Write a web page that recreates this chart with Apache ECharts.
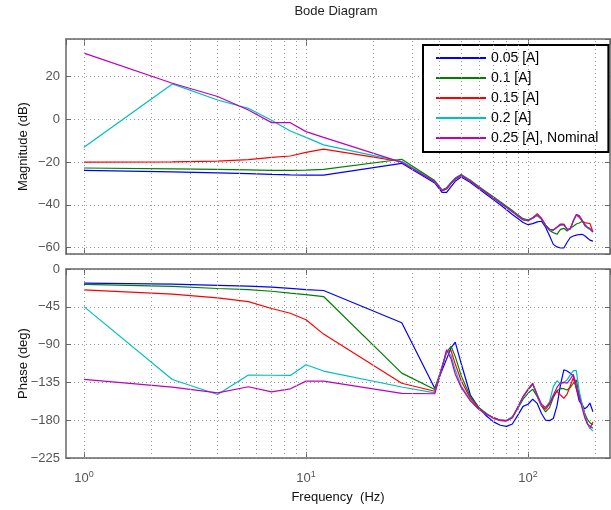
<!DOCTYPE html>
<html>
<head>
<meta charset="utf-8">
<title>Bode Diagram</title>
<script src="https://cdn.jsdelivr.net/npm/echarts@6/dist/echarts.min.js"></script>
<style>
  html, body { margin: 0; padding: 0; background: #fff; }
  #chart { width: 611px; height: 510px; }
</style>
</head>
<body>
<div id="chart"></div>
<script>
// frequency points (Hz), shared by every curve
const freq = [1, 2.5, 4, 5.5, 7, 8.5, 10, 12, 27, 38, 41, 43, 45, 47, 50,
  55, 60, 65, 70, 75, 80, 85, 90, 95, 100,
  105, 110, 115, 120, 125, 130, 135, 140, 145, 150, 155, 160, 165, 170, 175, 180, 185, 190, 196];

const names = ['0.05 [A]', '0.1 [A]', '0.15 [A]', '0.2 [A]', '0.25 [A], Nominal'];
const colors = ['#0000ff', '#008000', '#ff0000', '#00bfbf', '#bf00bf'];

// magnitude (dB)
const magA05 = [-23.9, -24.6, -25.1, -25.4, -25.8, -26.0, -26.1, -26.1, -20.6, -29.8, -34.2, -34.2, -31.5, -29.0, -27.0,
  -29.6, -32.5, -35.2, -37.7, -40.0, -42.3, -44.5, -46.4, -48.3, -49.3,
  -48.8, -48.0, -47.7, -50.5, -54.5, -58.5, -59.7, -60.2, -60.2, -57.5, -55.3, -54.6, -54.2, -53.9, -53.8, -54.5, -55.5, -56.5, -57.0];
const magA10 = [-22.8, -23.2, -23.4, -23.7, -23.9, -23.9, -23.8, -23.4, -18.7, -28.7, -33.0, -32.0, -29.5, -27.5, -25.8,
  -28.5, -31.4, -34.0, -36.4, -38.6, -40.7, -42.7, -44.7, -46.5, -47.0,
  -46.3, -45.0, -46.8, -49.8, -52.0, -53.0, -53.8, -51.5, -51.0, -52.3, -51.0, -50.0, -49.0, -48.5, -47.8, -49.0, -50.5, -51.5, -52.8];
const magA15 = [-20.1, -19.9, -19.6, -18.9, -17.8, -17.2, -15.5, -14.0, -19.8, -29.2, -33.4, -32.5, -30.0, -28.0, -26.2,
  -29.0, -31.9, -34.5, -36.9, -39.1, -41.2, -43.2, -45.2, -47.0, -47.4,
  -46.0, -44.2, -46.3, -49.5, -51.5, -51.8, -50.5, -49.0, -49.0, -51.5, -51.2, -47.5, -44.8, -45.8, -47.5, -48.3, -48.6, -48.7, -52.6];
const magA20 = [-13.1, 16.5, 9.0, 5.1, -0.5, -5.5, -8.5, -12.0, -19.8, -29.2, -33.4, -32.5, -30.0, -28.0, -26.2,
  -29.0, -31.9, -34.5, -36.9, -39.1, -41.2, -43.2, -45.2, -47.0, -47.4,
  -46.2, -44.8, -46.5, -49.5, -51.5, -51.8, -50.5, -49.5, -49.5, -51.5, -51.3, -47.5, -44.5, -45.0, -47.0, -49.8, -50.8, -51.5, -52.6];
const magA25 = [30.9, 16.8, 10.6, 4.3, -1.6, -1.6, -5.8, -8.5, -20.2, -29.2, -33.4, -32.5, -30.0, -28.0, -26.2,
  -29.0, -31.9, -34.5, -36.9, -39.1, -41.2, -43.2, -45.2, -47.0, -47.4,
  -46.2, -44.6, -46.5, -49.5, -51.5, -51.8, -50.5, -49.3, -49.2, -51.5, -51.3, -47.5, -44.6, -45.2, -47.2, -49.5, -50.5, -51.0, -52.6];

// phase (deg)
const phA05 = [-16.8, -18.0, -19.5, -20.5, -21.5, -23.0, -24.5, -25.6, -64.0, -142.0, -120.5, -107, -94, -87, -112.5,
  -150, -165, -175, -182, -186, -187.4, -184.5, -174, -163.5, -161,
  -155, -160, -172, -180, -180.5, -178, -163, -138, -120, -121.5, -124, -127.5, -142, -157, -161.5, -166.5, -164, -159.5, -170];
const phA10 = [-18.4, -20.8, -23.2, -24.6, -26.5, -28.8, -30.5, -32.8, -124.0, -143.4, -116, -99, -92, -104, -127,
  -152, -165, -172, -177.5, -180, -180.5, -176, -166, -155, -148,
  -143, -152, -163, -170, -165, -153, -145, -142, -142.5, -144, -141, -136, -132, -150, -163, -172, -179, -183, -185.5];
const phA15 = [-24.8, -30.0, -34.4, -38.8, -47.0, -52.7, -60.5, -77.5, -136.0, -145.5, -117, -98, -97, -113, -133,
  -154, -166, -173, -178, -180.5, -181, -177, -165, -152, -143,
  -136, -150, -163, -167, -161, -151, -145.5, -150, -154, -149, -139, -129.5, -142, -153, -160, -172, -184, -190, -182];
const phA20 = [-44.8, -131.5, -149.4, -126.3, -126.5, -126.7, -114.0, -121.5, -140.5, -147.4, -117, -97, -103, -120, -139,
  -156, -167, -173, -177, -180, -180.5, -176, -165, -152, -144,
  -137, -150, -162, -165, -158, -140, -133, -137, -135, -132, -126, -121, -121, -145, -160, -174, -184, -189, -193];
const phA25 = [-131.5, -140.7, -147.4, -140.2, -146.2, -142.6, -133.5, -133.5, -148.0, -148.5, -118, -96, -107, -125, -141,
  -157, -167, -173, -177, -180, -180.5, -177, -164, -152, -144,
  -137, -150, -161, -165, -160, -150, -141, -135.5, -135, -136, -131, -125.5, -139, -152, -165, -177, -184, -187, -189.5];

// dotted vertical grid (log decades and their sub-divisions)
const gridFreqs = [1, 2, 3, 4, 5, 6, 7, 8, 9, 10, 20, 30, 40, 50, 60, 70, 80, 90, 100, 200];

const magSets = [magA05, magA10, magA15, magA20, magA25];
const phaseSets = [phA05, phA10, phA15, phA20, phA25];

const FONT = 'Liberation Sans, Arial, Helvetica, sans-serif';
const AXIS = '#666';
const LABEL = '#555';
const dotted = { show: true, lineStyle: { color: '#999', width: 1, type: [1, 3] } };

function pairs(vals) {
  return freq.map(function (f, i) { return [f, vals[i]]; });
}
function minus(v) {
  return String(v).replace('-', '\u2212');
}

const vGrid = {
  silent: true,
  symbol: ['none', 'none'],
  label: { show: false },
  lineStyle: { color: '#999', width: 1, type: [1, 3] },
  data: gridFreqs.map(function (v) { return { xAxis: v }; })
};

function xAxisOf(grid, pos, withLabels) {
  return {
    type: 'log', gridIndex: grid, position: pos, min: 0.83, max: 234,
    axisLine: { show: true, onZero: false, lineStyle: { color: AXIS, width: 1.5 } },
    axisTick: { show: true, inside: true, length: 6, lineStyle: { color: AXIS } },
    splitLine: { show: false },
    axisLabel: withLabels ? {
      show: true, margin: 12, showMinLabel: false, showMaxLabel: false,
      formatter: function (v) { return '{b|10}{s|' + Math.round(Math.log10(v)) + '}'; },
      rich: {
        b: { fontSize: 13, color: LABEL, fontFamily: FONT },
        s: { fontSize: 9, color: LABEL, fontFamily: FONT, padding: [0, 0, 8, 0] }
      }
    } : { show: false }
  };
}

function yAxisOf(grid, pos, lo, hi, step, withLabels, name) {
  const ax = {
    type: 'value', gridIndex: grid, position: pos, min: lo, max: hi,
    axisLine: { show: true, onZero: false, lineStyle: { color: AXIS, width: 1.5 } },
    axisTick: { show: true, inside: true, length: 5, lineStyle: { color: AXIS } },
    splitLine: withLabels ? dotted : { show: false },
    axisLabel: withLabels ? {
      show: true, margin: 6, color: LABEL, fontSize: 13, fontFamily: FONT,
      showMinLabel: step > 0, showMaxLabel: step > 0,
      formatter: minus
    } : { show: false }
  };
  if (step) { ax.interval = step; } else { ax.splitNumber = 5; }
  if (name) {
    ax.name = name;
    ax.nameLocation = 'middle';
    ax.nameGap = 36;
    ax.nameMoveOverlap = false;
    ax.nameTextStyle = { color: '#111', fontSize: 13, fontFamily: FONT };
  }
  return ax;
}

const series = [];
names.forEach(function (n, k) {
  series.push({
    name: n, type: 'line', xAxisIndex: 0, yAxisIndex: 0,
    data: pairs(magSets[k]), symbol: 'none',
    lineStyle: { width: 1.2, color: colors[k] }, itemStyle: { color: colors[k] },
    markLine: k === 0 ? vGrid : undefined
  });
});
names.forEach(function (n, k) {
  series.push({
    name: n, type: 'line', xAxisIndex: 2, yAxisIndex: 2,
    data: pairs(phaseSets[k]), symbol: 'none',
    lineStyle: { width: 1.2, color: colors[k] }, itemStyle: { color: colors[k] },
    markLine: k === 0 ? vGrid : undefined
  });
});

const xBottom = xAxisOf(1, 'bottom', true);
xBottom.name = 'Frequency  (Hz)';
xBottom.nameLocation = 'middle';
xBottom.nameGap = 33;
xBottom.nameMoveOverlap = false;
xBottom.nameTextStyle = { color: '#111', fontSize: 13, fontFamily: FONT };

const chart = echarts.init(document.getElementById('chart'));
chart.setOption({
  animation: false,
  backgroundColor: '#fff',
  textStyle: { fontFamily: FONT },
  title: {
    text: 'Bode Diagram', left: 336, top: 5, textAlign: 'center', padding: 0,
    textStyle: { color: '#222', fontSize: 13, fontWeight: 'normal', fontFamily: FONT }
  },
  legend: {
    data: names, orient: 'vertical', left: 423, top: 45,
    padding: [6, 10, 7, 12], itemGap: 6, itemWidth: 50, itemHeight: 14,
    backgroundColor: '#fff', borderColor: '#000', borderWidth: 2,
    itemStyle: { opacity: 0 },
    lineStyle: { width: 2 },
    textStyle: { color: '#000', fontSize: 14, fontFamily: FONT }
  },
  grid: [
    { left: 66, top: 39, width: 544, height: 215 },
    { left: 66, top: 269, width: 544, height: 189 }
  ],
  xAxis: [xAxisOf(0, 'bottom', false), xAxisOf(0, 'top', false), xBottom, xAxisOf(1, 'top', false)],
  yAxis: [
    yAxisOf(0, 'left', -63, 37.5, 0, true, 'Magnitude (dB)'),
    yAxisOf(0, 'right', -63, 37.5, 0, false),
    yAxisOf(1, 'left', -225, 0, 45, true, 'Phase (deg)'),
    yAxisOf(1, 'right', -225, 0, 45, false)
  ],
  series: series
});
</script>
</body>
</html>
